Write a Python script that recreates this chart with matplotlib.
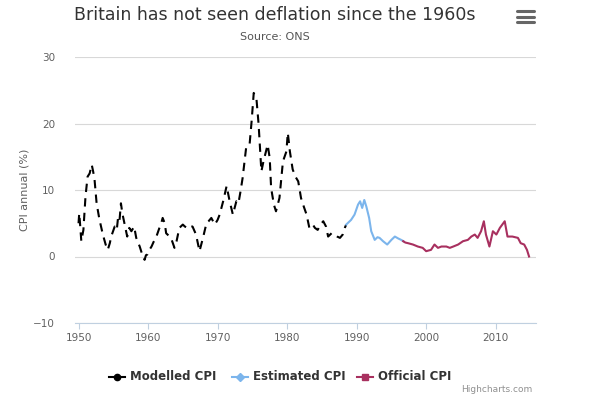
import matplotlib
matplotlib.use("Agg")
import matplotlib.pyplot as plt
from matplotlib.lines import Line2D

# values
modelled_years = [1950.0, 1950.1, 1950.2, 1950.4, 1950.7, 1951.0, 1951.3, 1951.6, 1951.9, 1952.1,
                  1952.3, 1952.6, 1953.0, 1953.5, 1953.9, 1954.2, 1954.5, 1954.7, 1955.2, 1955.5,
                  1955.7, 1955.9, 1956.1, 1956.3, 1956.6, 1957.0, 1957.3, 1957.6, 1958.0, 1958.3,
                  1958.8, 1959.1, 1959.3, 1959.5, 1959.7, 1959.9, 1960.2, 1960.5, 1960.8, 1961.2,
                  1961.6, 1961.9, 1962.1, 1962.4, 1962.6, 1962.8, 1963.3, 1963.8, 1964.1, 1964.5,
                  1965.0, 1965.3, 1965.7, 1966.0, 1966.4, 1966.9, 1967.4, 1967.9, 1968.4, 1968.7,
                  1969.1, 1969.6, 1970.0, 1970.3, 1970.8, 1971.3, 1971.7, 1972.2, 1972.7, 1973.0,
                  1973.3, 1973.6, 1974.1, 1974.6, 1974.9, 1975.2, 1975.6, 1975.9, 1976.3, 1976.6,
                  1977.2, 1977.5, 1977.7, 1978.1, 1978.4, 1978.9, 1979.4, 1979.9, 1980.1, 1980.4,
                  1980.8, 1981.2, 1981.6, 1982.0, 1982.4, 1982.8, 1983.2, 1983.7, 1984.0, 1984.4,
                  1984.8, 1985.2, 1985.6, 1985.9, 1986.4, 1986.8, 1987.2, 1987.6, 1988.0, 1988.3,
                  1988.5]
modelled_cpi = [5.0, 6.5, 5.2, 2.3, 4.0, 9.0, 12.0, 12.5, 13.8, 12.8,
                11.6, 8.0, 5.6, 3.3, 1.8, 1.0, 2.0, 3.0, 4.5, 4.0,
                6.0, 5.5, 8.0, 6.5, 5.0, 3.0, 4.3, 3.8, 4.5, 2.8,
                1.5, 0.5, 0.0, -0.5, 0.2, 0.3, 1.0, 1.5, 2.2, 3.0,
                4.2, 5.0, 5.8, 5.0, 3.5, 3.3, 2.8, 1.3, 2.3, 4.3,
                4.8, 4.5, 4.3, 4.6, 4.5, 3.3, 0.8, 2.8, 5.0, 5.3,
                5.8, 4.8, 5.5, 6.3, 8.3, 10.6, 8.5, 6.3, 8.3, 8.0,
                9.8, 11.8, 16.3, 16.8, 20.4, 24.6, 23.6, 19.9, 12.8, 14.3,
                16.8, 14.8, 10.3, 7.8, 6.8, 8.8, 14.3, 15.8, 18.6, 15.8,
                13.1, 12.0, 11.3, 8.8, 7.5, 6.3, 4.3, 4.8, 4.3, 4.0,
                4.8, 5.3, 4.5, 3.0, 3.5, 3.3, 3.0, 2.8, 3.3, 4.3,
                4.8]

estimated_years = [1988.5, 1989.2, 1989.7, 1990.2, 1990.5, 1990.8, 1991.1, 1991.4, 1991.8, 1992.1,
                   1992.6, 1993.0, 1993.3, 1993.8, 1994.4, 1995.0, 1995.5, 1996.0, 1996.4, 1996.7]
estimated_cpi = [4.8, 5.5, 6.3, 7.8, 8.3, 7.3, 8.5, 7.5, 5.8, 3.8,
                 2.5, 2.9, 2.8, 2.3, 1.8, 2.5, 3.0, 2.7, 2.5, 2.3]

official_years = [1996.7, 1997.0, 1997.4, 1998.1, 1998.8, 1999.5, 2000.0, 2000.7, 2001.2, 2001.7,
                  2002.2, 2002.9, 2003.4, 2003.9, 2004.6, 2005.3, 2006.0, 2006.5, 2007.0, 2007.4,
                  2007.9, 2008.3, 2008.6, 2009.1, 2009.6, 2010.1, 2010.6, 2011.3, 2011.7, 2012.4,
                  2013.2, 2013.6, 2014.1, 2014.5, 2014.8]
official_cpi = [2.3, 2.1, 2.0, 1.8, 1.5, 1.3, 0.8, 1.0, 1.8, 1.3,
                1.5, 1.5, 1.3, 1.5, 1.8, 2.3, 2.5, 3.0, 3.3, 2.8,
                3.8, 5.3, 3.3, 1.5, 3.8, 3.3, 4.3, 5.3, 3.0, 3.0,
                2.8, 2.0, 1.8, 1.0, 0.0]

x_ticks = [1950, 1960, 1970, 1980, 1990, 2000, 2010]
y_ticks = [-10, 0, 10, 20, 30]

W, H = 593, 398
fig = plt.figure(figsize=(W / 100, H / 100), dpi=100)
left, right, top, bottom = 74.5, 536, 57, 323
ax = fig.add_axes([left / W, 1 - bottom / H, (right - left) / W, (bottom - top) / H])

ax.plot(modelled_years, modelled_cpi, color="black", lw=1.5, linestyle=(0, (4, 3)))
ax.plot(estimated_years, estimated_cpi, color="#7cb5ec", lw=1.5)
ax.plot(official_years, official_cpi, color="#a8305f", lw=1.5)

ax.set_xlim(1949.42, 2015.8)
ax.set_ylim(-10, 30)
ax.set_xticks(x_ticks)
ax.set_yticks(y_ticks)
ax.grid(axis="y", color="#d8d8d8", lw=0.8)
ax.set_axisbelow(True)
for s in ["top", "right", "left"]:
    ax.spines[s].set_visible(False)
ax.spines["bottom"].set_color("#c0d0e0")
ax.spines["bottom"].set_linewidth(0.8)
ax.tick_params(axis="x", colors="#c0d0e0", length=4, width=0.8, pad=3, labelsize=7.5, labelcolor="#606060")
ax.tick_params(axis="y", length=0, pad=14, labelsize=7.5, labelcolor="#606060")

fig.text(25 / W, 1 - 190 / H, "CPI annual (%)", rotation=90, ha="center", va="center",
         fontsize=8, color="#606060")

fig.text(275 / W, 1 - 15 / H, "Britain has not seen deflation since the 1960s",
         ha="center", va="center", fontsize=12.5, color="#333333")
fig.text(275 / W, 1 - 37 / H, "Source: ONS", ha="center", va="center", fontsize=8, color="#555555")

# menu icon
for yy in [11, 16.5, 22]:
    fig.add_artist(Line2D([517 / W, 534 / W], [1 - yy / H, 1 - yy / H], color="#666666",
                          lw=2.2, solid_capstyle="round"))

# legend
legend_items = [("Modelled CPI", "black", "o", 117), ("Estimated CPI", "#7cb5ec", "D", 240),
                ("Official CPI", "#a8305f", "s", 365)]
ly = 1 - 377 / H
for name, col, mk, cx in legend_items:
    fig.add_artist(Line2D([(cx - 8) / W, (cx + 8) / W], [ly, ly], color=col, lw=1.5))
    fig.add_artist(Line2D([cx / W], [ly], color=col, marker=mk, markersize=4.5 if mk != "D" else 4))
    fig.text((cx + 13) / W, ly, name, ha="left", va="center", fontsize=8.5,
             fontweight="bold", color="#333333")

fig.text(532 / W, 1 - 389 / H, "Highcharts.com", ha="right", va="center", fontsize=6.5, color="#909090")

fig.savefig("out.png", dpi=100)
